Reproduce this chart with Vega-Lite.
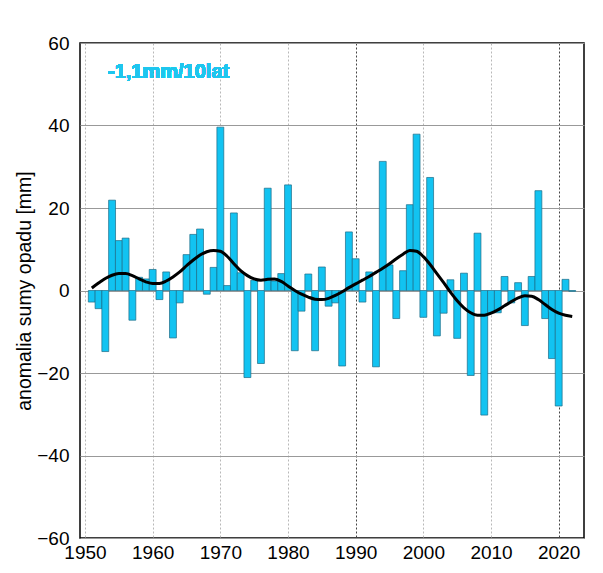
{
  "$schema": "https://vega.github.io/schema/vega-lite/v6.json",
  "width": 504,
  "height": 495,
  "autosize": "none",
  "padding": {"left": 80, "top": 43, "right": 19, "bottom": 35},
  "background": "white",
  "config": {
    "view": {"stroke": "black", "strokeWidth": 1.5},
    "font": "Liberation Sans"
  },
  "data": {"values": [
    {"year": 1951, "anomaly": -2.8, "trend": 0.6},
    {"year": 1952, "anomaly": -4.4, "trend": 1.8},
    {"year": 1953, "anomaly": -14.8, "trend": 2.9},
    {"year": 1954, "anomaly": 21.9, "trend": 3.7},
    {"year": 1955, "anomaly": 12.1, "trend": 4.1},
    {"year": 1956, "anomaly": 12.7, "trend": 4.1},
    {"year": 1957, "anomaly": -7.2, "trend": 3.6},
    {"year": 1958, "anomaly": 3.2, "trend": 2.8},
    {"year": 1959, "anomaly": 2.8, "trend": 2.1},
    {"year": 1960, "anomaly": 5.1, "trend": 1.7},
    {"year": 1961, "anomaly": -2.2, "trend": 1.7},
    {"year": 1962, "anomaly": 4.5, "trend": 2.3},
    {"year": 1963, "anomaly": -11.5, "trend": 3.3},
    {"year": 1964, "anomaly": -3.0, "trend": 4.5},
    {"year": 1965, "anomaly": 8.7, "trend": 6.0},
    {"year": 1966, "anomaly": 13.6, "trend": 7.4},
    {"year": 1967, "anomaly": 14.9, "trend": 8.6},
    {"year": 1968, "anomaly": -0.9, "trend": 9.4},
    {"year": 1969, "anomaly": 5.6, "trend": 9.7},
    {"year": 1970, "anomaly": 39.6, "trend": 9.5},
    {"year": 1971, "anomaly": 1.2, "trend": 8.3},
    {"year": 1972, "anomaly": 18.8, "trend": 6.5},
    {"year": 1973, "anomaly": 4.3, "trend": 4.8},
    {"year": 1974, "anomaly": -21.1, "trend": 3.6},
    {"year": 1975, "anomaly": 2.5, "trend": 2.8},
    {"year": 1976, "anomaly": -17.7, "trend": 2.5},
    {"year": 1977, "anomaly": 24.8, "trend": 2.7},
    {"year": 1978, "anomaly": 2.3, "trend": 2.8},
    {"year": 1979, "anomaly": 4.1, "trend": 2.2},
    {"year": 1980, "anomaly": 25.6, "trend": 1.1},
    {"year": 1981, "anomaly": -14.6, "trend": 0.0},
    {"year": 1982, "anomaly": -5.0, "trend": -0.9},
    {"year": 1983, "anomaly": 4.0, "trend": -1.6},
    {"year": 1984, "anomaly": -14.6, "trend": -2.1},
    {"year": 1985, "anomaly": 5.7, "trend": -2.2},
    {"year": 1986, "anomaly": -3.8, "trend": -1.9},
    {"year": 1987, "anomaly": -3.0, "trend": -1.2},
    {"year": 1988, "anomaly": -18.3, "trend": -0.3},
    {"year": 1989, "anomaly": 14.2, "trend": 0.7},
    {"year": 1990, "anomaly": 7.7, "trend": 1.6},
    {"year": 1991, "anomaly": -2.8, "trend": 2.5},
    {"year": 1992, "anomaly": 4.5, "trend": 3.4},
    {"year": 1993, "anomaly": -18.5, "trend": 4.4},
    {"year": 1994, "anomaly": 31.3, "trend": 5.4},
    {"year": 1995, "anomaly": 6.2, "trend": 6.5},
    {"year": 1996, "anomaly": -6.8, "trend": 7.7},
    {"year": 1997, "anomaly": 4.8, "trend": 8.8},
    {"year": 1998, "anomaly": 20.8, "trend": 9.7},
    {"year": 1999, "anomaly": 37.9, "trend": 9.5},
    {"year": 2000, "anomaly": -6.5, "trend": 8.2},
    {"year": 2001, "anomaly": 27.4, "trend": 6.3},
    {"year": 2002, "anomaly": -11.0, "trend": 4.1},
    {"year": 2003, "anomaly": -5.5, "trend": 1.9},
    {"year": 2004, "anomaly": 2.6, "trend": -0.4},
    {"year": 2005, "anomaly": -11.6, "trend": -2.5},
    {"year": 2006, "anomaly": 4.2, "trend": -4.2},
    {"year": 2007, "anomaly": -20.6, "trend": -5.4},
    {"year": 2008, "anomaly": 13.9, "trend": -6.0},
    {"year": 2009, "anomaly": -30.2, "trend": -6.0},
    {"year": 2010, "anomaly": -5.4, "trend": -5.5},
    {"year": 2011, "anomaly": -5.4, "trend": -4.7},
    {"year": 2012, "anomaly": 3.4, "trend": -3.7},
    {"year": 2013, "anomaly": -3.0, "trend": -2.7},
    {"year": 2014, "anomaly": 1.9, "trend": -1.8},
    {"year": 2015, "anomaly": -8.5, "trend": -1.3},
    {"year": 2016, "anomaly": 3.4, "trend": -1.4},
    {"year": 2017, "anomaly": 24.2, "trend": -2.2},
    {"year": 2018, "anomaly": -6.8, "trend": -3.4},
    {"year": 2019, "anomaly": -16.5, "trend": -4.6},
    {"year": 2020, "anomaly": -28.0, "trend": -5.5},
    {"year": 2021, "anomaly": 2.7, "trend": -6.0},
    {"year": 2022, "anomaly": -0.2, "trend": -6.3}
  ]},
  "encoding": {
    "x": {
      "field": "year", "type": "quantitative",
      "scale": {"domain": [1950, 2023], "nice": false, "zero": false},
      "axis": {
        "title": null,
        "values": [1950, 1960, 1970, 1980, 1990, 2000, 2010, 2020],
        "format": "d",
        "labelFontSize": 19, "labelColor": "black", "labelPadding": 5,
        "labelFlush": false,
        "ticks": false, "domain": false,
        "grid": true,
        "gridDash": [2, 2],
        "gridColor": {"condition": {"test": "datum.value === 1990 || datum.value === 2020", "value": "#444444"}, "value": "#b8b8b8"},
        "gridWidth": 1
      }
    }
  },
  "layer": [
    {
      "mark": {"type": "bar", "orient": "vertical", "size": 6.9, "fill": "#12C3F1", "stroke": "#1D6B86", "strokeWidth": 0.7},
      "encoding": {
        "y": {
          "field": "anomaly", "type": "quantitative",
          "scale": {"domain": [-60, 60], "nice": false},
          "axis": {
            "title": "anomalia sumy opadu [mm]",
            "titleFontSize": 19.5, "titleFontWeight": "normal", "titleColor": "black", "titlePadding": 2,
            "values": [-60, -40, -20, 0, 20, 40, 60],
            "labelFontSize": 19, "labelColor": "black", "labelPadding": 11,
            "ticks": false, "domain": false,
            "grid": true, "gridColor": "#999999", "gridWidth": 1
          }
        }
      }
    },
    {
      "mark": {"type": "line", "color": "black", "strokeWidth": 3, "interpolate": "monotone"},
      "encoding": {
        "y": {"field": "trend", "type": "quantitative"}
      }
    },
    {
      "mark": {"type": "text", "text": "-1,1mm/10lat", "align": "left", "baseline": "middle", "fontSize": 20, "fontWeight": "bold", "color": "#1EC6EE"},
      "encoding": {
        "x": {"datum": 1953.4},
        "y": {"datum": 53}
      }
    }
  ]
}
